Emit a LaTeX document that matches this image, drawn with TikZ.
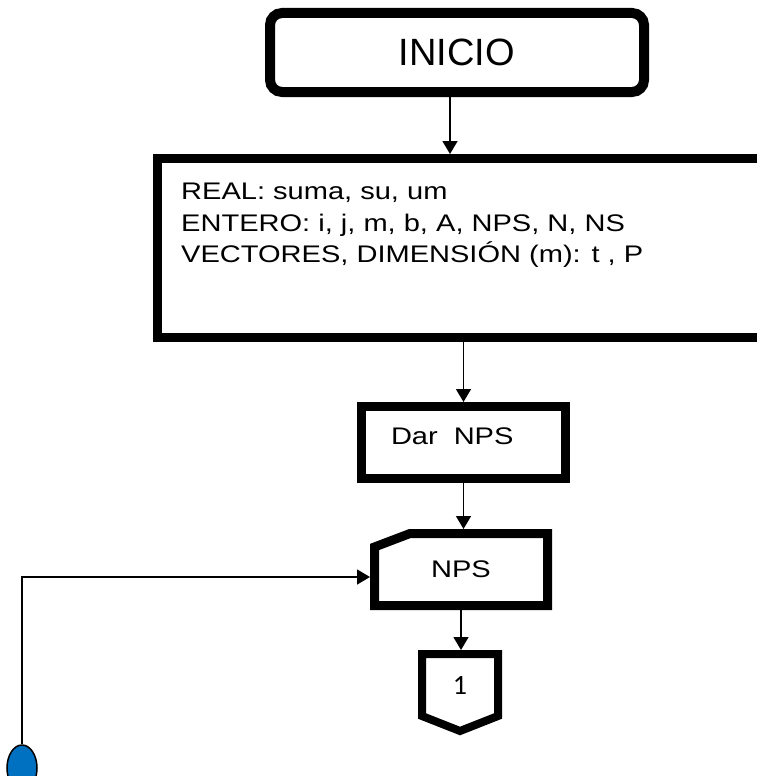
\documentclass[tikz,border=0pt]{standalone}
\usepackage{fontspec}
\setmainfont{Liberation Sans}
\newfontfamily\boxfont[FakeStretch=1.21]{Liberation Sans}
\newfontfamily\numfont{Carlito}
\usetikzlibrary{arrows.meta,shapes.geometric}
\definecolor{loopblue}{RGB}{0,112,192}

\begin{document}
\begin{tikzpicture}[x=1pt,y=-1pt,
  conn/.style={line width=1.5pt,-{Triangle[width=15pt,length=13pt]}},
  thickbox/.style={draw,line width=9pt,inner sep=0pt},
  plainbox/.style={inner sep=0pt,outer sep=0pt},
  boxtext/.style={font=\boxfont\fontsize{24}{31.5}\selectfont}]
\useasboundingbox (0,0) rectangle (757,776);

%Rounded Rect: start
\node[draw,line width=10pt,rounded corners=12pt,minimum width=374pt,minimum height=79pt,font=\fontsize{38}{44}\selectfont] (inicio) at (457,52.5) {INICIO};

%Shape: Rectangle (declarations)
\node[thickbox,minimum width=632.5pt,minimum height=179pt] (decl) at (473.75,248) {};
% Text Node
\node[boxtext,anchor=north west,align=left,inner sep=0pt] (decltext) at ([xshift=28pt,yshift=-29pt]decl.north west) {REAL: suma, su, um\\ENTERO: i, j, m, b, A, NPS, N, NS\\VECTORES, DIMENSIÓN (m): t , P};

%Shape: Rectangle (read)
\node[thickbox,boxtext,text width=145pt,inner xsep=29.5pt,align=left,text depth=12pt,minimum height=72pt] (dar) at (463.5,442.5) {Dar~~NPS};

%Shape: Card
\node[plainbox,boxtext,minimum width=173pt,minimum height=72pt] (nps) at (461,569.5) {NPS};
\draw[line width=9pt] ([yshift=-13.5pt]nps.north west) -- ([xshift=35.5pt]nps.north west) -- (nps.north east) -- (nps.south east) -- (nps.south west) -- cycle;

%Shape: Off-page connector
\node[plainbox,font=\numfont\fontsize{28}{32}\selectfont,minimum width=76pt,minimum height=62pt] (off1) at (460,685) {1};
\draw[line width=8pt] (off1.north west) -- (off1.north east) -- (off1.south east) -- ([yshift=-15pt]off1.south) -- (off1.south west) -- cycle;

%Shape: Ellipse
\node[ellipse,draw,line width=1.5pt,fill=loopblue,minimum width=30pt,minimum height=46pt,inner sep=0pt] (loop) at (22,768) {};

%Straight Lines
\draw[conn] ([xshift=-7pt]inicio.south) -- ([xshift=-7pt]inicio.south |- decl.north);
\draw[conn] (dar.north |- decl.south) -- (dar.north);
\draw[conn,shorten >=4.5pt] (dar.south) -- (dar.south |- nps.north);
\draw[conn,shorten >=4pt] (nps.south) -- (nps.south |- off1.north);
\draw[conn,shorten >=4.5pt] (loop.north) |- ([yshift=-7.5pt]nps.west);

\end{tikzpicture}
\end{document}
